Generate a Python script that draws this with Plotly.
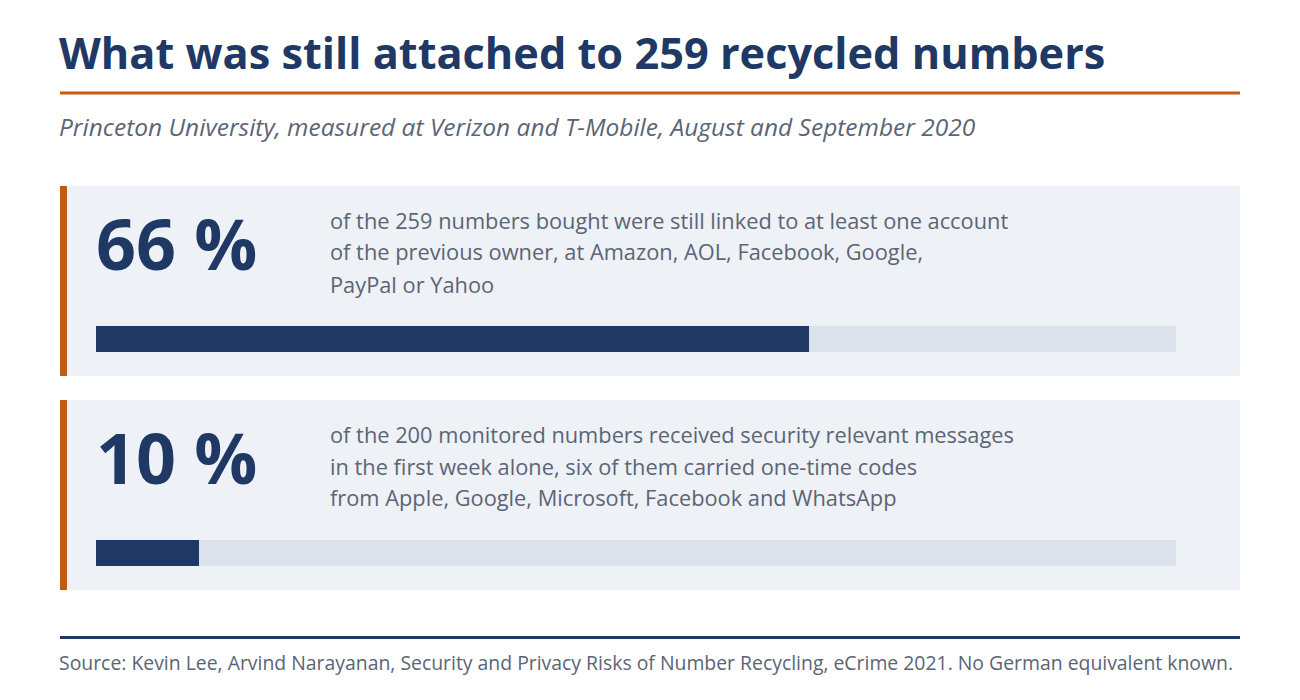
import plotly.graph_objects as go

W, H = 1300, 700
OFF = 8  # page body margin

title = "What was still attached to 259 recycled numbers"
subtitle = "Princeton University, measured at Verizon and T-Mobile, August and September 2020"
source = ("Source: Kevin Lee, Arvind Narayanan, Security and Privacy Risks of Number Recycling, "
          "eCrime 2021. No German equivalent known.")

big_labels = ["66 %", "10 %"]
shares = [66, 9.5]  # bar fill, percent of the numbers
desc_lines = [
    ["of the 259 numbers bought were still linked to at least one account",
     "of the previous owner, at Amazon, AOL, Facebook, Google,",
     "PayPal or Yahoo"],
    ["of the 200 monitored numbers received security relevant messages",
     "in the first week alone, six of them carried one-time codes",
     "from Apple, Google, Microsoft, Facebook and WhatsApp"],
]

NAVY = "#203864"
ORANGE = "#c55a11"
CARD = "#eef1f6"
TRACK = "#dbe2eb"
GREY = "#5b6575"
FONT = "Open Sans"


def px(x):
    return (x - OFF) / W


def py(y):
    return 1 - (y - OFF) / H


fig = go.Figure()
shapes = []
annotations = []

# rules under title and above source
shapes.append(dict(type="rect", xref="paper", yref="paper", x0=px(60), x1=px(1240),
                   y0=py(94.5), y1=py(91.5), fillcolor=ORANGE, line_width=0, layer="below"))
shapes.append(dict(type="rect", xref="paper", yref="paper", x0=px(60), x1=px(1240),
                   y0=py(639), y1=py(636), fillcolor=NAVY, line_width=0, layer="below"))

annotations.append(dict(text="<b>" + title + "</b>", x=px(57), y=py(53), xanchor="left", yanchor="middle",
                        font=dict(family=FONT, size=43.3, color=NAVY)))
annotations.append(dict(text="<i>" + subtitle + "</i>", x=px(57), y=py(126), xanchor="left", yanchor="middle",
                        font=dict(family=FONT, size=24.5, color=GREY)))
annotations.append(dict(text=source, x=px(57), y=py(662), xanchor="left", yanchor="middle",
                        font=dict(family=FONT, size=19.4, color=GREY)))

card_top = [186, 400]
for i, (lab, val, lines) in enumerate(zip(big_labels, shares, desc_lines)):
    top = card_top[i]
    shapes.append(dict(type="rect", xref="paper", yref="paper", x0=px(60), x1=px(1240),
                       y0=py(top + 190), y1=py(top), fillcolor=CARD, line_width=0, layer="below"))
    shapes.append(dict(type="rect", xref="paper", yref="paper", x0=px(60), x1=px(67),
                       y0=py(top + 190), y1=py(top), fillcolor=ORANGE, line_width=0, layer="below"))
    annotations.append(dict(text="<b>" + lab + "</b>", x=px(94), y=py(top + 57), xanchor="left",
                            yanchor="middle", font=dict(family=FONT, size=70, color=NAVY)))
    for j, line in enumerate(lines):
        annotations.append(dict(text=line, x=px(328), y=py(top + 34 + 32 * j), xanchor="left",
                                yanchor="middle", font=dict(family=FONT, size=21.8, color=GREY)))

    n = "" if i == 0 else str(i + 1)
    fig.add_trace(go.Bar(x=[100], y=[0], orientation="h", marker=dict(color=TRACK, line_width=0),
                         width=1, xaxis="x" + n, yaxis="y" + n, hoverinfo="skip", showlegend=False))
    fig.add_trace(go.Bar(x=[val], y=[0], orientation="h", marker=dict(color=NAVY, line_width=0),
                         width=1, xaxis="x" + n, yaxis="y" + n, hoverinfo="skip", showlegend=False))
    ax = dict(range=[0, 100], domain=[px(96), px(1176)], visible=False, fixedrange=True)
    ay = dict(range=[-0.5, 0.5], domain=[py(top + 166), py(top + 140)], visible=False, fixedrange=True)
    if i == 0:
        fig.update_layout(xaxis=ax, yaxis=ay)
    else:
        ax["anchor"] = "y2"
        ay["anchor"] = "x2"
        fig.update_layout(xaxis2=ax, yaxis2=ay)

for a in annotations:
    a.update(xref="paper", yref="paper", showarrow=False)

fig.update_layout(
    width=W, height=H,
    margin=dict(l=0, r=0, t=0, b=0),
    paper_bgcolor="white", plot_bgcolor="rgba(0,0,0,0)",
    barmode="overlay", bargap=0,
    shapes=shapes, annotations=annotations,
    font=dict(family=FONT),
)

fig.write_html("out.html")
